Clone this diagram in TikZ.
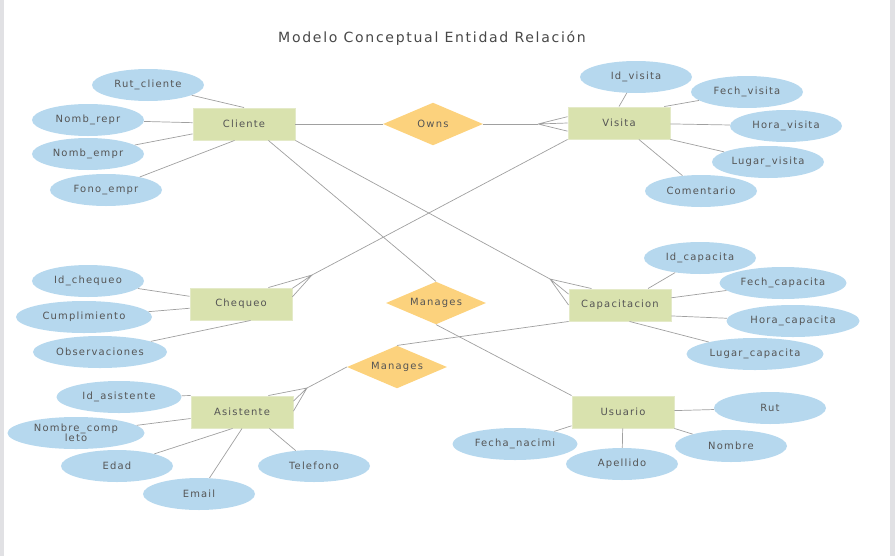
\documentclass[tikz,border=0pt]{standalone}
\usepackage{fontspec}
\setmainfont{DejaVu Sans}[LetterSpace=12]
\usetikzlibrary{shapes.geometric}
\definecolor{entfill}{RGB}{217,226,174}
\definecolor{entline}{RGB}{228,234,200}
\definecolor{relfill}{RGB}{252,210,125}
\definecolor{attfill}{RGB}{182,216,238}
\definecolor{lingray}{RGB}{160,160,160}
\definecolor{txtgray}{RGB}{85,85,85}
\definecolor{marco}{RGB}{225,225,228}
\tikzset{
  entidad/.style={rectangle, fill=entfill, draw=entline, line width=0.8pt, minimum width=3.06cm, minimum height=0.96cm, inner sep=0pt, font=\fontsize{8.5}{10}\selectfont, text=txtgray},
  relacion/.style={diamond, fill=relfill, aspect=2.4, minimum width=3cm, minimum height=1.28cm, inner sep=0pt, font=\fontsize{8.5}{10}\selectfont, text=txtgray},
  atributo/.style={ellipse, fill=attfill, minimum width=3.36cm, minimum height=0.96cm, inner sep=0pt, align=center, font=\fontsize{8.5}{9}\selectfont, text=txtgray},
  linea/.style={draw=lingray, line width=0.6pt},
}
\begin{document}
\begin{tikzpicture}[x=0.03cm, y=-0.03cm]
        \useasboundingbox (0,0) rectangle (895,556);
        % marco
        \fill[marco] (0,0) rectangle (4,556);
        \fill[marco] (890,0) rectangle (895,556);
        % titulo
        \node[font=\fontsize{12}{14}\selectfont, text=txtgray!85!black] (titulo) at (432,38) {Modelo Conceptual Entidad Relación};
        % entidades
        \node[entidad] (cliente) at (244,124) {Cliente};
        \node[entidad] (visita) at (619,123) {Visita};
        \node[entidad] (chequeo) at (241,304) {Chequeo};
        \node[entidad] (capacita) at (620,305) {Capacitacion};
        \node[entidad] (asistente) at (242,412) {Asistente};
        \node[entidad] (usuario) at (623,412) {Usuario};
        % relaciones
        \node[relacion] (owns) at (433,124) {Owns};
        \node[relacion] (managesA) at (436,303) {Manages};
        \node[relacion] (managesB) at (397,367) {Manages};
        % atributos de Cliente
        \node[atributo] (rutc) at (148,85) {Rut\_cliente};
        \node[atributo] (nrepr) at (88,120) {Nomb\_repr};
        \node[atributo] (nempr) at (88,154) {Nomb\_empr};
        \node[atributo] (fono) at (106,190) {Fono\_empr};
        \draw[linea] (rutc) -- (cliente.north);
        \draw[linea] (nrepr) -- (cliente);
        \draw[linea] (nempr) -- (cliente);
        \draw[linea] (fono) -- (cliente.-120);
        % atributos de Visita
        \node[atributo] (idvis) at (636,77) {Id\_visita};
        \node[atributo] (fechvis) at (747,92) {Fech\_visita};
        \node[atributo] (horavis) at (786,126) {Hora\_visita};
        \node[atributo] (lugarvis) at (768,162) {Lugar\_visita};
        \node[atributo] (coment) at (701,191) {Comentario};
        \draw[linea] (idvis) -- (visita.north);
        \draw[linea] (fechvis) -- (visita.20);
        \draw[linea] (horavis) -- (visita);
        \draw[linea] (lugarvis) -- (visita.south east);
        \draw[linea] (coment) -- (visita);
        % atributos de Chequeo
        \node[atributo] (idcheq) at (88,281) {Id\_chequeo};
        \node[atributo, minimum width=4.08cm] (cumpl) at (84,317) {Cumplimiento};
        \node[atributo, minimum width=4.02cm] (obs) at (100,352) {Observaciones};
        \draw[linea] (idcheq) -- (chequeo);
        \draw[linea] (cumpl) -- (chequeo);
        \draw[linea] (obs) -- (chequeo.-60);
        % atributos de Capacitacion
        \node[atributo] (idcap) at (700,258) {Id\_capacita};
        \node[atributo, minimum width=3.81cm] (fechcap) at (783,283) {Fech\_capacita};
        \node[atributo, minimum width=3.99cm] (horacap) at (793,321) {Hora\_capacita};
        \node[atributo, minimum width=4.11cm] (lugarcap) at (755,354) {Lugar\_capacita};
        \draw[linea] (idcap) -- (capacita);
        \draw[linea] (fechcap) -- (capacita.8);
        \draw[linea] (horacap) -- (capacita.-12);
        \draw[linea] (lugarcap) -- (capacita.-60);
        % atributos de Asistente
        \node[atributo, minimum width=3.75cm] (idasis) at (119,397) {Id\_asistente};
        \node[atributo, minimum width=4.11cm] (nomcomp) at (76,433) {Nombre\_comp\\leto};
        \node[atributo] (edad) at (117,466) {Edad};
        \node[atributo] (email) at (199,494) {Email};
        \node[atributo] (tel) at (314,466) {Telefono};
        \draw[linea] (idasis) -- (asistente.north west);
        \draw[linea] (nomcomp) -- (asistente);
        \draw[linea] (edad) -- (asistente.-120);
        \draw[linea] (email) -- (asistente.south);
        \draw[linea] (tel) -- (asistente.-31);
        % atributos de Usuario
        \node[atributo] (rut) at (770,408) {Rut};
        \node[atributo] (nombre) at (731,446) {Nombre};
        \node[atributo] (apellido) at (622,464) {Apellido};
        \node[atributo, minimum width=3.75cm] (fnac) at (515,444) {Fecha\_nacimi};
        \draw[linea] (rut) -- (usuario);
        \draw[linea] (nombre) -- (usuario.south east);
        \draw[linea] (apellido) -- (usuario);
        \draw[linea] (fnac) -- (usuario.-165);
        % Cliente - Owns - Visita (pata de gallo en Visita)
        \coordinate (pVis) at (538,124);
        \draw[linea] (cliente) -- (owns);
        \draw[linea] (owns) -- (pVis);
        \draw[linea] (pVis) -- (visita.173) (pVis) -- (visita.west) (pVis) -- (visita.189);
        % Visita - Chequeo
        \coordinate (pChq) at (312,275);
        \draw[linea] (visita.south west) -- (pChq);
        \draw[linea] (pChq) -- (chequeo.31) (pChq) -- (chequeo.17) (pChq) -- (chequeo.8);
        % Cliente - Capacitacion
        \coordinate (pCap) at (550,279);
        \draw[linea] (cliente.south east) -- (pCap);
        \draw[linea] (pCap) -- (capacita.150) (pCap) -- (capacita.168) (pCap) -- (capacita.180);
        % Cliente - Manages - Usuario
        \draw[linea] (cliente.-34) -- (managesA.north);
        \draw[linea] (managesA.south) -- (usuario.north west);
        % Capacitacion - Manages - Asistente
        \coordinate (pAsi) at (307,388);
        \draw[linea] (capacita.south west) -- (managesB.north);
        \draw[linea] (managesB.west) -- (pAsi);
        \draw[linea] (pAsi) -- (asistente.32) (pAsi) -- (asistente.12) (pAsi) -- (asistente.1);
    \end{tikzpicture}
\end{document}
